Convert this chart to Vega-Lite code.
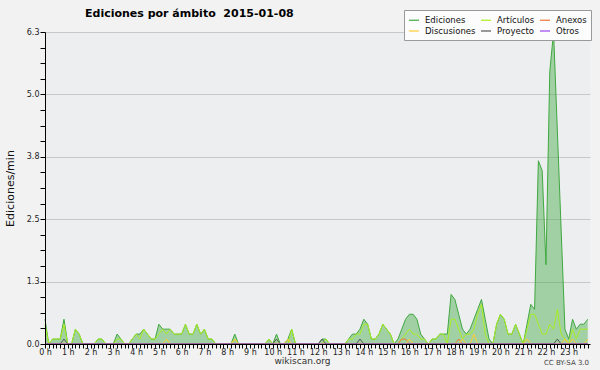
{
"$schema": "https://vega.github.io/schema/vega-lite/v6.json",
"width": 545, "height": 312,
"autosize": "none",
"padding": {"left": 45, "top": 32, "right": 10, "bottom": 26},
"background": "#f2f2f2",
"config": {"view": {"fill": "#eceef0", "stroke": null}, "font": "DejaVu Sans"},
"title": {"text": "Ediciones por ámbito\u00a0 2015-01-08", "anchor": "start", "frame": "group", "dx": 40, "offset": 0, "dy": 9, "fontSize": 11, "fontWeight": "bold", "font": "DejaVu Sans", "color": "#000"},
"data": {"values": [
{"t":0,"ed":0.5,"art":0.4,"anx":0,"dis":0,"pro":0,"otr":0},
{"t":10,"ed":0,"art":0,"anx":0,"dis":0,"pro":0,"otr":0},
{"t":20,"ed":0.1,"art":0.1,"anx":0,"dis":0,"pro":0,"otr":0},
{"t":30,"ed":0.1,"art":0.1,"anx":0,"dis":0,"pro":0,"otr":0},
{"t":40,"ed":0.1,"art":0.1,"anx":0,"dis":0,"pro":0,"otr":0},
{"t":50,"ed":0.5,"art":0.4,"anx":0,"dis":0,"pro":0.1,"otr":0},
{"t":60,"ed":0,"art":0,"anx":0,"dis":0,"pro":0,"otr":0},
{"t":70,"ed":0,"art":0,"anx":0,"dis":0,"pro":0,"otr":0},
{"t":80,"ed":0.3,"art":0.3,"anx":0,"dis":0,"pro":0,"otr":0},
{"t":90,"ed":0.2,"art":0.2,"anx":0,"dis":0,"pro":0,"otr":0},
{"t":100,"ed":0,"art":0,"anx":0,"dis":0,"pro":0,"otr":0},
{"t":110,"ed":0,"art":0,"anx":0,"dis":0,"pro":0,"otr":0},
{"t":120,"ed":0,"art":0,"anx":0,"dis":0,"pro":0,"otr":0},
{"t":130,"ed":0,"art":0,"anx":0,"dis":0,"pro":0,"otr":0},
{"t":140,"ed":0.1,"art":0.1,"anx":0,"dis":0,"pro":0,"otr":0},
{"t":150,"ed":0.1,"art":0.1,"anx":0,"dis":0,"pro":0,"otr":0},
{"t":160,"ed":0,"art":0,"anx":0,"dis":0,"pro":0,"otr":0},
{"t":170,"ed":0,"art":0,"anx":0,"dis":0,"pro":0,"otr":0},
{"t":180,"ed":0,"art":0,"anx":0,"dis":0,"pro":0,"otr":0},
{"t":190,"ed":0.2,"art":0.1,"anx":0,"dis":0,"pro":0,"otr":0},
{"t":200,"ed":0.1,"art":0.1,"anx":0,"dis":0,"pro":0,"otr":0},
{"t":210,"ed":0,"art":0,"anx":0,"dis":0,"pro":0,"otr":0},
{"t":220,"ed":0,"art":0,"anx":0,"dis":0,"pro":0,"otr":0},
{"t":230,"ed":0.1,"art":0.1,"anx":0,"dis":0,"pro":0,"otr":0},
{"t":240,"ed":0.2,"art":0.2,"anx":0,"dis":0,"pro":0,"otr":0},
{"t":250,"ed":0.2,"art":0.1,"anx":0,"dis":0,"pro":0,"otr":0},
{"t":260,"ed":0.3,"art":0.3,"anx":0,"dis":0,"pro":0,"otr":0},
{"t":270,"ed":0.2,"art":0.2,"anx":0,"dis":0,"pro":0,"otr":0},
{"t":280,"ed":0.1,"art":0.1,"anx":0,"dis":0,"pro":0,"otr":0},
{"t":290,"ed":0.1,"art":0.1,"anx":0,"dis":0,"pro":0,"otr":0},
{"t":300,"ed":0.4,"art":0.2,"anx":0,"dis":0,"pro":0,"otr":0},
{"t":310,"ed":0.3,"art":0.3,"anx":0,"dis":0,"pro":0,"otr":0},
{"t":320,"ed":0.3,"art":0.2,"anx":0,"dis":0.1,"pro":0,"otr":0},
{"t":330,"ed":0.3,"art":0.3,"anx":0,"dis":0,"pro":0,"otr":0},
{"t":340,"ed":0.2,"art":0.2,"anx":0,"dis":0,"pro":0,"otr":0},
{"t":350,"ed":0.2,"art":0.2,"anx":0,"dis":0,"pro":0,"otr":0},
{"t":360,"ed":0.2,"art":0.2,"anx":0,"dis":0,"pro":0,"otr":0},
{"t":370,"ed":0.4,"art":0.4,"anx":0,"dis":0,"pro":0,"otr":0},
{"t":380,"ed":0.2,"art":0.2,"anx":0,"dis":0,"pro":0,"otr":0},
{"t":390,"ed":0.2,"art":0.2,"anx":0,"dis":0,"pro":0,"otr":0},
{"t":400,"ed":0.4,"art":0.4,"anx":0,"dis":0,"pro":0,"otr":0},
{"t":410,"ed":0.2,"art":0.2,"anx":0,"dis":0,"pro":0,"otr":0},
{"t":420,"ed":0.3,"art":0.3,"anx":0,"dis":0,"pro":0,"otr":0},
{"t":430,"ed":0.1,"art":0.1,"anx":0,"dis":0,"pro":0,"otr":0},
{"t":440,"ed":0.1,"art":0.1,"anx":0,"dis":0,"pro":0,"otr":0},
{"t":450,"ed":0,"art":0,"anx":0,"dis":0,"pro":0,"otr":0},
{"t":460,"ed":0,"art":0,"anx":0,"dis":0,"pro":0,"otr":0},
{"t":470,"ed":0,"art":0,"anx":0,"dis":0,"pro":0,"otr":0},
{"t":480,"ed":0,"art":0,"anx":0,"dis":0,"pro":0,"otr":0},
{"t":490,"ed":0,"art":0,"anx":0,"dis":0,"pro":0,"otr":0},
{"t":500,"ed":0.2,"art":0.1,"anx":0,"dis":0.1,"pro":0,"otr":0},
{"t":510,"ed":0,"art":0,"anx":0,"dis":0,"pro":0,"otr":0},
{"t":520,"ed":0,"art":0,"anx":0,"dis":0,"pro":0,"otr":0},
{"t":530,"ed":0,"art":0,"anx":0,"dis":0,"pro":0,"otr":0},
{"t":540,"ed":0,"art":0,"anx":0,"dis":0,"pro":0,"otr":0},
{"t":550,"ed":0,"art":0,"anx":0,"dis":0,"pro":0,"otr":0},
{"t":560,"ed":0,"art":0,"anx":0,"dis":0,"pro":0,"otr":0},
{"t":570,"ed":0,"art":0,"anx":0,"dis":0,"pro":0,"otr":0},
{"t":580,"ed":0,"art":0,"anx":0,"dis":0,"pro":0,"otr":0},
{"t":590,"ed":0.1,"art":0.1,"anx":0,"dis":0,"pro":0,"otr":0},
{"t":600,"ed":0,"art":0,"anx":0,"dis":0,"pro":0,"otr":0},
{"t":610,"ed":0.2,"art":0.1,"anx":0,"dis":0,"pro":0.1,"otr":0},
{"t":620,"ed":0,"art":0,"anx":0,"dis":0,"pro":0,"otr":0},
{"t":630,"ed":0,"art":0,"anx":0,"dis":0,"pro":0,"otr":0},
{"t":640,"ed":0.1,"art":0,"anx":0,"dis":0.1,"pro":0,"otr":0},
{"t":650,"ed":0.3,"art":0.3,"anx":0,"dis":0,"pro":0,"otr":0},
{"t":660,"ed":0,"art":0,"anx":0,"dis":0,"pro":0,"otr":0},
{"t":670,"ed":0,"art":0,"anx":0,"dis":0,"pro":0,"otr":0},
{"t":680,"ed":0,"art":0,"anx":0,"dis":0,"pro":0,"otr":0},
{"t":690,"ed":0,"art":0,"anx":0,"dis":0,"pro":0,"otr":0},
{"t":700,"ed":0,"art":0,"anx":0,"dis":0,"pro":0,"otr":0},
{"t":710,"ed":0,"art":0,"anx":0,"dis":0,"pro":0,"otr":0},
{"t":720,"ed":0,"art":0,"anx":0,"dis":0,"pro":0,"otr":0},
{"t":730,"ed":0.1,"art":0,"anx":0,"dis":0,"pro":0.1,"otr":0},
{"t":740,"ed":0.1,"art":0.1,"anx":0,"dis":0,"pro":0,"otr":0},
{"t":750,"ed":0,"art":0,"anx":0,"dis":0,"pro":0,"otr":0},
{"t":760,"ed":0,"art":0,"anx":0,"dis":0,"pro":0,"otr":0},
{"t":770,"ed":0,"art":0,"anx":0,"dis":0,"pro":0,"otr":0},
{"t":780,"ed":0,"art":0,"anx":0,"dis":0,"pro":0,"otr":0},
{"t":790,"ed":0,"art":0,"anx":0,"dis":0,"pro":0,"otr":0},
{"t":800,"ed":0.1,"art":0.1,"anx":0,"dis":0,"pro":0,"otr":0},
{"t":810,"ed":0.2,"art":0.1,"anx":0,"dis":0,"pro":0,"otr":0},
{"t":820,"ed":0.2,"art":0.2,"anx":0,"dis":0,"pro":0,"otr":0},
{"t":830,"ed":0.3,"art":0.2,"anx":0,"dis":0,"pro":0.1,"otr":0},
{"t":840,"ed":0.5,"art":0.4,"anx":0,"dis":0,"pro":0,"otr":0},
{"t":850,"ed":0.4,"art":0.4,"anx":0,"dis":0,"pro":0,"otr":0},
{"t":860,"ed":0.1,"art":0.1,"anx":0,"dis":0,"pro":0,"otr":0},
{"t":870,"ed":0.1,"art":0.1,"anx":0,"dis":0,"pro":0,"otr":0},
{"t":880,"ed":0.2,"art":0.2,"anx":0,"dis":0,"pro":0,"otr":0},
{"t":890,"ed":0.4,"art":0.4,"anx":0,"dis":0,"pro":0,"otr":0},
{"t":900,"ed":0.3,"art":0.3,"anx":0,"dis":0,"pro":0,"otr":0},
{"t":910,"ed":0.2,"art":0.2,"anx":0,"dis":0,"pro":0,"otr":0},
{"t":920,"ed":0,"art":0,"anx":0,"dis":0,"pro":0,"otr":0},
{"t":930,"ed":0.1,"art":0,"anx":0,"dis":0,"pro":0,"otr":0},
{"t":940,"ed":0.3,"art":0.1,"anx":0.1,"dis":0,"pro":0,"otr":0},
{"t":950,"ed":0.5,"art":0.2,"anx":0.1,"dis":0,"pro":0,"otr":0},
{"t":960,"ed":0.6,"art":0.3,"anx":0,"dis":0.1,"pro":0,"otr":0},
{"t":970,"ed":0.6,"art":0.2,"anx":0,"dis":0,"pro":0,"otr":0},
{"t":980,"ed":0.5,"art":0.2,"anx":0,"dis":0,"pro":0,"otr":0},
{"t":990,"ed":0.2,"art":0.1,"anx":0,"dis":0,"pro":0,"otr":0},
{"t":1000,"ed":0.1,"art":0.1,"anx":0,"dis":0,"pro":0,"otr":0},
{"t":1010,"ed":0,"art":0,"anx":0,"dis":0,"pro":0,"otr":0},
{"t":1020,"ed":0.1,"art":0.1,"anx":0,"dis":0,"pro":0,"otr":0},
{"t":1030,"ed":0.1,"art":0.1,"anx":0,"dis":0,"pro":0,"otr":0},
{"t":1040,"ed":0.2,"art":0.2,"anx":0,"dis":0,"pro":0,"otr":0},
{"t":1050,"ed":0.2,"art":0.2,"anx":0,"dis":0,"pro":0,"otr":0},
{"t":1060,"ed":0.2,"art":0,"anx":0,"dis":0,"pro":0,"otr":0},
{"t":1070,"ed":1.0,"art":0.5,"anx":0,"dis":0,"pro":0,"otr":0},
{"t":1080,"ed":0.9,"art":0.5,"anx":0,"dis":0,"pro":0,"otr":0},
{"t":1090,"ed":0.6,"art":0.3,"anx":0.1,"dis":0,"pro":0,"otr":0},
{"t":1100,"ed":0.3,"art":0.1,"anx":0,"dis":0.1,"pro":0,"otr":0},
{"t":1110,"ed":0.2,"art":0.2,"anx":0,"dis":0,"pro":0,"otr":0},
{"t":1120,"ed":0.3,"art":0.2,"anx":0,"dis":0,"pro":0,"otr":0},
{"t":1130,"ed":0.5,"art":0.3,"anx":0,"dis":0.2,"pro":0,"otr":0},
{"t":1140,"ed":0.7,"art":0.6,"anx":0,"dis":0,"pro":0,"otr":0},
{"t":1150,"ed":0.9,"art":0.8,"anx":0,"dis":0,"pro":0,"otr":0},
{"t":1160,"ed":0.5,"art":0.2,"anx":0,"dis":0,"pro":0,"otr":0},
{"t":1170,"ed":0.1,"art":0,"anx":0,"dis":0,"pro":0,"otr":0},
{"t":1180,"ed":0,"art":0,"anx":0,"dis":0,"pro":0,"otr":0},
{"t":1190,"ed":0.4,"art":0.4,"anx":0,"dis":0,"pro":0,"otr":0},
{"t":1200,"ed":0.6,"art":0.6,"anx":0,"dis":0,"pro":0,"otr":0},
{"t":1210,"ed":0.5,"art":0.5,"anx":0,"dis":0,"pro":0,"otr":0},
{"t":1220,"ed":0.2,"art":0.2,"anx":0,"dis":0,"pro":0,"otr":0},
{"t":1230,"ed":0.2,"art":0.2,"anx":0,"dis":0,"pro":0,"otr":0},
{"t":1240,"ed":0.4,"art":0.4,"anx":0,"dis":0,"pro":0,"otr":0},
{"t":1250,"ed":0.2,"art":0.2,"anx":0,"dis":0,"pro":0,"otr":0},
{"t":1260,"ed":0,"art":0,"anx":0,"dis":0,"pro":0,"otr":0},
{"t":1270,"ed":0.4,"art":0.3,"anx":0,"dis":0.1,"pro":0,"otr":0},
{"t":1280,"ed":0.8,"art":0.6,"anx":0,"dis":0,"pro":0,"otr":0},
{"t":1290,"ed":0.7,"art":0.6,"anx":0,"dis":0,"pro":0,"otr":0},
{"t":1300,"ed":3.7,"art":0.4,"anx":0,"dis":0,"pro":0,"otr":0},
{"t":1310,"ed":3.5,"art":0.2,"anx":0,"dis":0,"pro":0,"otr":0},
{"t":1320,"ed":1.6,"art":0.2,"anx":0,"dis":0,"pro":0,"otr":0},
{"t":1330,"ed":5.5,"art":0.4,"anx":0,"dis":0,"pro":0,"otr":0},
{"t":1340,"ed":6.3,"art":0.3,"anx":0,"dis":0,"pro":0,"otr":0},
{"t":1350,"ed":4.3,"art":0.7,"anx":0,"dis":0,"pro":0.1,"otr":0},
{"t":1360,"ed":2.3,"art":0.2,"anx":0,"dis":0,"pro":0,"otr":0},
{"t":1370,"ed":0.3,"art":0.1,"anx":0,"dis":0.1,"pro":0,"otr":0},
{"t":1380,"ed":0.1,"art":0,"anx":0,"dis":0,"pro":0,"otr":0},
{"t":1390,"ed":0.5,"art":0.3,"anx":0,"dis":0.1,"pro":0,"otr":0},
{"t":1400,"ed":0.3,"art":0.1,"anx":0,"dis":0,"pro":0,"otr":0},
{"t":1410,"ed":0.4,"art":0.3,"anx":0,"dis":0,"pro":0,"otr":0},
{"t":1420,"ed":0.4,"art":0.3,"anx":0,"dis":0,"pro":0,"otr":0},
{"t":1430,"ed":0.5,"art":0.3,"anx":0,"dis":0.1,"pro":0,"otr":0}
]},
"transform": [{"fold": ["ed","art","anx","dis","pro","otr"], "as": ["serie","valor"]}],
"layer": [
{
"transform": [{"filter": "datum.serie === 'ed'"}],
"mark": {"type": "area", "color": "#44aa44", "opacity": 0.45},
"encoding": {
"x": {"field": "t", "type": "quantitative", "scale": {"domain": [0, 1436], "nice": false, "zero": false},
"axis": {"orient": "bottom", "title": "CC BY-SA 3.0", "labels": false, "ticks": false, "domain": false, "grid": false, "titleX": 521, "titleY": 14, "titleFontSize": 7, "titleFontWeight": "normal", "titleColor": "#444", "titleBaseline": "top", "zindex": 0}},
"y": {"field": "valor", "type": "quantitative", "scale": {"domain": [0, 6.3], "nice": false},
"axis": {"orient": "left", "values": [1.26, 2.52, 3.78, 5.04, 6.3], "grid": true, "gridColor": "#c8c8c8", "gridOpacity": 1, "labels": false, "ticks": false, "domain": false, "title": null, "zindex": 0}}
}
},
{
"mark": {"type": "line", "strokeWidth": 1},
"encoding": {
"x": {"field": "t", "type": "quantitative", "scale": {"domain": [0, 1436], "nice": false, "zero": false},
"axis": {"orient": "bottom", "values": [0,10,20,30,40,50,60,70,80,90,100,110,120,130,140,150,160,170,180,190,200,210,220,230,240,250,260,270,280,290,300,310,320,330,340,350,360,370,380,390,400,410,420,430,440,450,460,470,480,490,500,510,520,530,540,550,560,570,580,590,600,610,620,630,640,650,660,670,680,690,700,710,720,730,740,750,760,770,780,790,800,810,820,830,840,850,860,870,880,890,900,910,920,930,940,950,960,970,980,990,1000,1010,1020,1030,1040,1050,1060,1070,1080,1090,1100,1110,1120,1130,1140,1150,1160,1170,1180,1190,1200,1210,1220,1230,1240,1250,1260,1270,1280,1290,1300,1310,1320,1330,1340,1350,1360,1370,1380,1390,1400,1410,1420,1430],
"labelExpr": "datum.value % 60 === 0 ? (datum.value / 60) + ' h' : ''",
"title": "wikiscan.org", "titleX": 257, "titleY": 12, "titleFontSize": 9, "titleFontWeight": "normal", "titleColor": "#333", "titleBaseline": "top",
"grid": false, "domainColor": "#000", "tickColor": "#000", "tickSize": 4, "labelFontSize": 8, "labelColor": "#222", "labelPadding": 0, "labelOverlap": false, "labelFlush": false, "labelBound": false, "zindex": 1}},
"y": {"field": "valor", "type": "quantitative", "scale": {"domain": [0, 6.3], "nice": false},
"axis": {"orient": "left", "values": [0,0.315,0.63,0.945,1.26,1.575,1.89,2.205,2.52,2.835,3.15,3.465,3.78,4.095,4.41,4.725,5.04,5.355,5.67,5.985,6.3],
"labelExpr": "abs(datum.value/1.26 - round(datum.value/1.26)) < 0.01 ? format(datum.value, '.1f') : ''",
"grid": false, "title": "Ediciones/min", "titleX": -35, "titleY": 156, "titleAlign": "center", "titleBaseline": "middle", "titleFontSize": 11, "titleFontWeight": "normal", "titleColor": "#111",
"domainColor": "#000", "tickColor": "#000", "tickSize": 5, "labelFontSize": 8, "labelColor": "#222", "labelPadding": 1, "labelOverlap": false, "labelFlush": false, "labelBound": false, "zindex": 1}},
"color": {"field": "serie", "type": "nominal",
"scale": {"domain": ["ed","dis","art","pro","anx","otr"], "range": ["#40a840", "#ffcc33", "#aaee22", "#555555", "#ee7733", "#9944ee"]},
"legend": {"orient": "none", "legendX": 359, "legendY": -22, "columns": 3, "title": null, "symbolType": "stroke", "symbolSize": 100, "symbolStrokeWidth": 1.2, "labelFontSize": 8.5, "labelColor": "#111", "labelOffset": 5, "columnPadding": 2, "rowPadding": 0, "padding": 4, "fillColor": "#fcfcfc", "strokeColor": "#999",
"labelExpr": "datum.label === 'ed' ? 'Ediciones' : datum.label === 'art' ? 'Artículos' : datum.label === 'anx' ? 'Anexos' : datum.label === 'dis' ? 'Discusiones' : datum.label === 'pro' ? 'Proyecto' : 'Otros'"}}
}
}
],
"resolve": {"axis": {"x": "independent", "y": "independent"}}
}
